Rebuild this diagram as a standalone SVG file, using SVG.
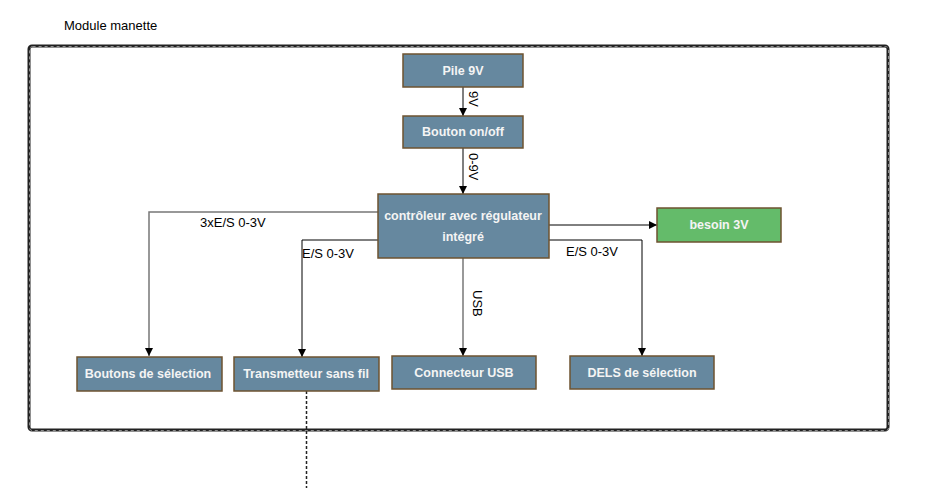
<svg xmlns="http://www.w3.org/2000/svg" width="946" height="488" viewBox="0 0 946 488">
<defs>
<marker id="arr" viewBox="0 0 10 10" refX="10" refY="5" markerWidth="8" markerHeight="8" markerUnits="userSpaceOnUse" orient="auto"><path d="M0,0 L10,5 L0,10 z" fill="#000"/></marker>
<style>
.node{fill:#66889f;stroke:#6e5330;stroke-width:1.5}
.green{fill:#64bb6a;stroke:#6e5330;stroke-width:1.5}
.nt{font-family:"Liberation Sans",Arial,sans-serif;font-size:12.5px;font-weight:bold;fill:#f4f4f4;text-anchor:middle}
.lbl{font-family:"Liberation Sans",Arial,sans-serif;font-size:13px;fill:#000}
.c{fill:none;stroke:#000;stroke-width:1}
.cg{fill:none;stroke:#777;stroke-width:1.5}
</style>
</defs>
<rect width="946" height="488" fill="#fff"/>
<g id="container">
<text class="lbl" x="64" y="30">Module manette</text>
<rect x="29" y="46" width="859" height="384" rx="3" fill="none" stroke="#222" stroke-width="3"/>
<rect x="29" y="46" width="859" height="384" rx="3" fill="none" stroke="#999" stroke-width="1" stroke-dasharray="3,3" transform="translate(0.6,0.6)"/>
</g>
<g id="connectors">
<line class="c" x1="463" y1="87" x2="463" y2="116" marker-end="url(#arr)"/>
<line class="c" x1="463" y1="148" x2="463" y2="194" marker-end="url(#arr)"/>
<polyline class="cg" points="378,212 149,212 149,356" marker-end="url(#arr)"/>
<polyline class="c" points="378,240 302,240 302,357" marker-end="url(#arr)"/>
<line class="c" x1="548" y1="225" x2="657" y2="225" marker-end="url(#arr)"/>
<polyline class="c" points="548,240 642,240 642,356" marker-end="url(#arr)"/>
<line class="cg" x1="463" y1="258" x2="463" y2="356" marker-end="url(#arr)"/>
<line x1="306.5" y1="391" x2="306.5" y2="488" stroke="#222" stroke-width="1.5" stroke-dasharray="3,2"/>
<text class="lbl" transform="translate(469,91) rotate(90)">9V</text>
<text class="lbl" transform="translate(469,153) rotate(90)">0-9V</text>
<text class="lbl" transform="translate(473,290) rotate(90)">USB</text>
<text class="lbl" x="200" y="227">3xE/S 0-3V</text>
<text class="lbl" x="302" y="258">E/S 0-3V</text>
<text class="lbl" x="566" y="256">E/S 0-3V</text>
</g>
<g id="pile"><rect class="node" x="403" y="54" width="120" height="33"/><text class="nt" x="463" y="75">Pile 9V</text></g>
<g id="bouton"><rect class="node" x="403" y="116" width="120" height="32"/><text class="nt" x="463" y="136">Bouton on/off</text></g>
<g id="controleur"><rect class="node" x="378" y="194" width="171" height="64"/><text class="nt" x="463" y="220">contrôleur avec régulateur</text><text class="nt" x="463" y="241">intégré</text></g>
<g id="besoin"><rect class="green" x="657" y="208" width="124" height="34"/><text class="nt" x="719" y="229">besoin 3V</text></g>
<g id="boutons"><rect class="node" x="77" y="357" width="145" height="34"/><text class="nt" x="148" y="378">Boutons de sélection</text></g>
<g id="transmetteur"><rect class="node" x="234" y="357" width="145" height="34"/><text class="nt" x="306" y="378">Transmetteur sans fil</text></g>
<g id="usb"><rect class="node" x="392" y="356" width="144" height="33"/><text class="nt" x="464" y="377">Connecteur USB</text></g>
<g id="dels"><rect class="node" x="570" y="356" width="144" height="33"/><text class="nt" x="642" y="377">DELS de sélection</text></g>
</svg>
